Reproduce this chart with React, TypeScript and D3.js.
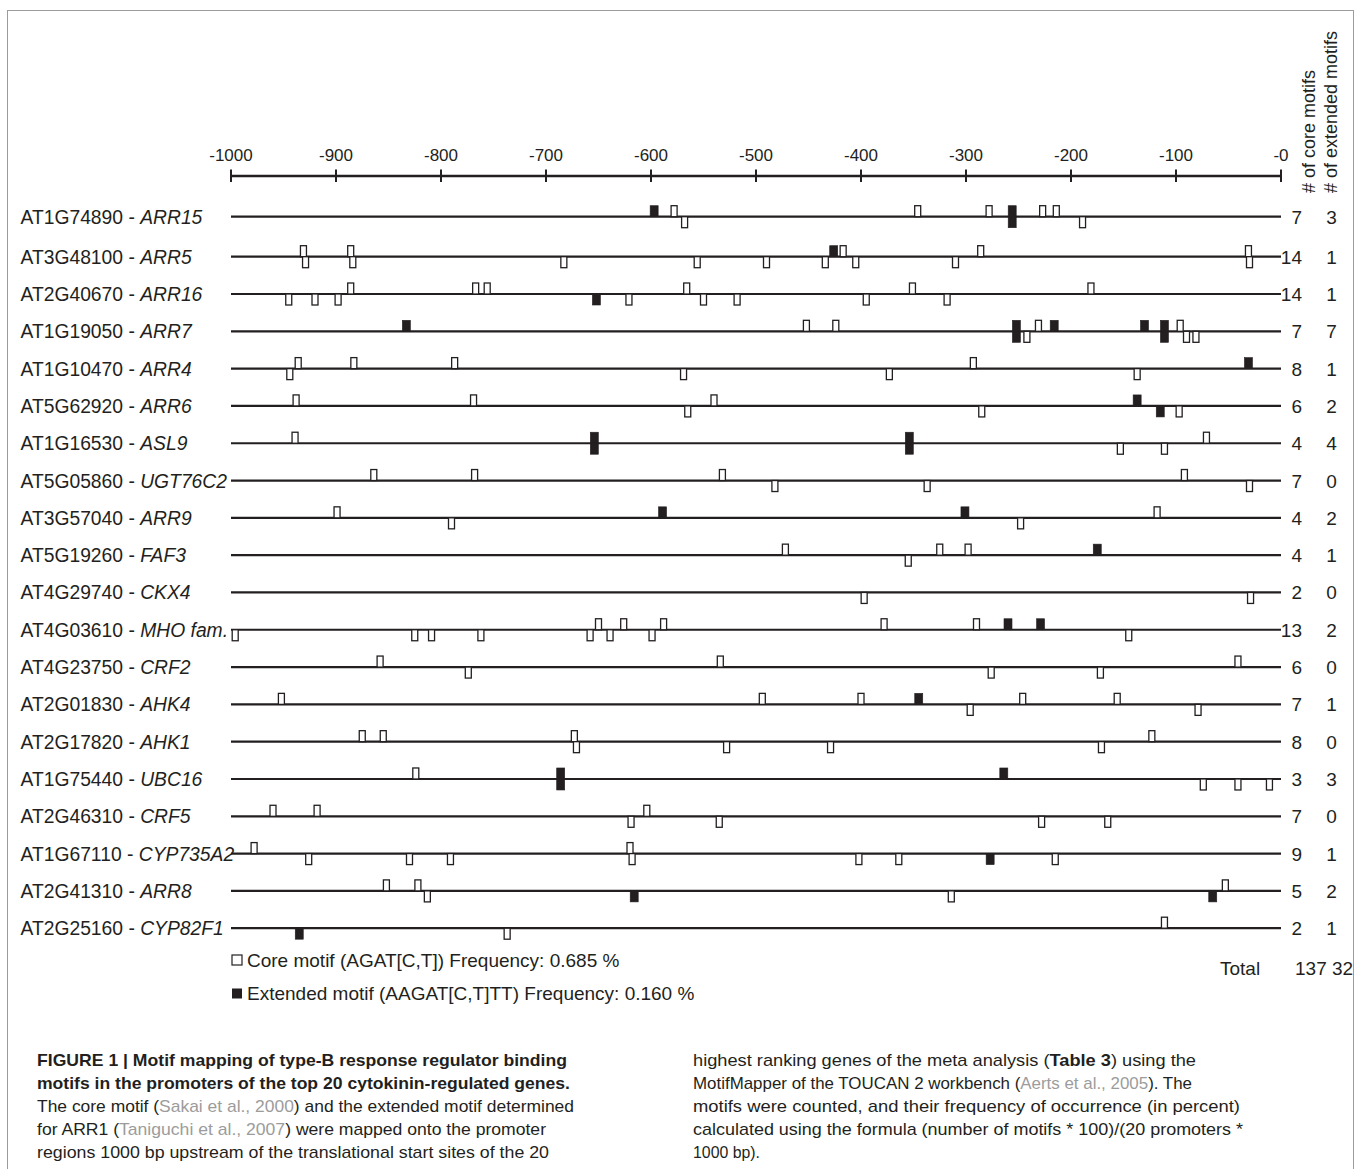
import React from "react";
import * as d3 from "d3";

const geneIds = [
  "AT1G74890", "AT3G48100", "AT2G40670", "AT1G19050", "AT1G10470",
  "AT5G62920", "AT1G16530", "AT5G05860", "AT3G57040", "AT5G19260",
  "AT4G29740", "AT4G03610", "AT4G23750", "AT2G01830", "AT2G17820",
  "AT1G75440", "AT2G46310", "AT1G67110", "AT2G41310", "AT2G25160",
];
const geneSymbols = [
  "ARR15", "ARR5", "ARR16", "ARR7", "ARR4", "ARR6", "ASL9", "UGT76C2", "ARR9", "FAF3",
  "CKX4", "MHO fam.", "CRF2", "AHK4", "AHK1", "UBC16", "CRF5", "CYP735A2", "ARR8", "CYP82F1",
];
const coreCounts = [7, 14, 14, 7, 8, 6, 4, 7, 4, 4, 2, 13, 6, 7, 8, 3, 7, 9, 5, 2];
const extendedCounts = [3, 1, 1, 7, 1, 2, 4, 0, 2, 1, 0, 2, 0, 1, 0, 3, 0, 1, 2, 1];

// [position (bp), strand: 1 = above line, -1 = below line]
const coreSites: number[][][] = [
  [[-578, 1], [-568, -1], [-346, 1], [-278, 1], [-227, 1], [-214, 1], [-189, -1]],
  [[-931, 1], [-929, -1], [-886, 1], [-884, -1], [-683, -1], [-556, -1], [-490, -1], [-434, -1], [-417, 1], [-405, -1], [-310, -1], [-286, 1], [-31, 1], [-30, -1]],
  [[-945, -1], [-920, -1], [-898, -1], [-886, 1], [-767, 1], [-756, 1], [-621, -1], [-566, 1], [-550, -1], [-518, -1], [-395, -1], [-351, 1], [-318, -1], [-181, 1]],
  [[-452, 1], [-424, 1], [-242, -1], [-231, 1], [-96, 1], [-90, -1], [-81, -1]],
  [[-944, -1], [-936, 1], [-883, 1], [-787, 1], [-569, -1], [-373, -1], [-293, 1], [-137, -1]],
  [[-938, 1], [-769, 1], [-565, -1], [-540, 1], [-285, -1], [-97, -1]],
  [[-939, 1], [-153, -1], [-111, -1], [-71, 1]],
  [[-864, 1], [-768, 1], [-532, 1], [-482, -1], [-337, -1], [-92, 1], [-30, -1]],
  [[-899, 1], [-790, -1], [-248, -1], [-118, 1]],
  [[-472, 1], [-355, -1], [-325, 1], [-298, 1]],
  [[-397, -1], [-29, -1]],
  [[-996, -1], [-825, -1], [-809, -1], [-762, -1], [-658, -1], [-650, 1], [-639, -1], [-626, 1], [-599, -1], [-588, 1], [-378, 1], [-290, 1], [-145, -1]],
  [[-858, 1], [-774, -1], [-534, 1], [-276, -1], [-172, -1], [-41, 1]],
  [[-952, 1], [-494, 1], [-400, 1], [-296, -1], [-246, 1], [-156, 1], [-79, -1]],
  [[-875, 1], [-855, 1], [-673, 1], [-671, -1], [-528, -1], [-429, -1], [-171, -1], [-123, 1]],
  [[-824, 1], [-74, -1], [-41, -1], [-11, -1]],
  [[-960, 1], [-918, 1], [-619, -1], [-604, 1], [-535, -1], [-228, -1], [-165, -1]],
  [[-978, 1], [-926, -1], [-830, -1], [-791, -1], [-620, 1], [-618, -1], [-402, -1], [-364, -1], [-215, -1]],
  [[-852, 1], [-822, 1], [-813, -1], [-314, -1], [-53, 1]],
  [[-737, -1], [-111, 1]],
];
const extendedSites: number[][][] = [
  [[-597, 1], [-256, 1], [-256, -1]],
  [[-426, 1]],
  [[-652, -1]],
  [[-833, 1], [-252, 1], [-252, -1], [-216, 1], [-130, 1], [-111, 1], [-111, -1]],
  [[-31, 1]],
  [[-137, 1], [-115, -1]],
  [[-654, 1], [-654, -1], [-354, 1], [-354, -1]],
  [],
  [[-589, 1], [-301, 1]],
  [[-175, 1]],
  [],
  [[-260, 1], [-229, 1]],
  [],
  [[-345, 1]],
  [],
  [[-686, 1], [-686, -1], [-264, 1]],
  [],
  [[-277, -1]],
  [[-616, -1], [-65, -1]],
  [[-935, -1]],
];
const axisTicks = d3.range(-1000, 1, 100);

const INK = "#231f20";
const FONT = "'Liberation Sans', Arial, Helvetica, sans-serif";
const GREY = "#9c9c9c";

export default function App() {
  const x = d3.scaleLinear().domain([-1000, 0]).range([231, 1281]);
  const yRest = d3.scaleLinear().domain([1, 19]).range([256.7, 928.2]);
  const rowY = (i: number) => (i === 0 ? 216.7 : yRest(i));
  const axisY = 176;
  const markH = 11;
  const coreW = 6;
  const extW = 8;

  const totalCore = d3.sum(coreCounts);
  const totalExt = d3.sum(extendedCounts);

  return (
    <svg
      width={1356}
      height={1169}
      style={{ position: "absolute", left: 0, top: 0, background: "#fff" }}
      fontFamily={FONT}
    >
      <rect x={0} y={0} width={1356} height={1169} fill="#fff" />
      {/* frame */}
      <rect x={7.5} y={10.5} width={1346} height={1200} fill="none" stroke={GREY} strokeWidth={1} />

      {/* axis */}
      <line x1={x(-1000)} x2={x(0)} y1={axisY} y2={axisY} stroke={INK} strokeWidth={2.4} />
      {axisTicks.map((t) => (
        <g key={t}>
          <line x1={x(t)} x2={x(t)} y1={axisY - 6.5} y2={axisY + 6} stroke={INK} strokeWidth={2} />
          <text x={x(t)} y={160.5} textAnchor="middle" fontSize={17} fill={INK}>
            {"-" + Math.abs(t)}
          </text>
        </g>
      ))}

      {/* column headers */}
      <text transform="translate(1315,193) rotate(-90)" fontSize={18} fill={INK}>
        # of core motifs
      </text>
      <text transform="translate(1337,193) rotate(-90)" fontSize={18} fill={INK}>
        # of extended motifs
      </text>

      {/* rows */}
      {geneIds.map((id, i) => {
        const y = rowY(i);
        return (
          <g key={id}>
            <text x={20.5} y={y + 7} fontSize={19.3} fill={INK}>
              {id + " - "}
              <tspan fontStyle="italic">{geneSymbols[i]}</tspan>
            </text>
            <line x1={x(-1000)} x2={x(0)} y1={y} y2={y} stroke={INK} strokeWidth={2.2} />
            {coreSites[i].map(([p, s], k) => (
              <rect
                key={"c" + k}
                x={x(p) - coreW / 2}
                y={s > 0 ? y - markH : y}
                width={coreW}
                height={markH}
                fill="#fff"
                stroke={INK}
                strokeWidth={1.3}
              />
            ))}
            {extendedSites[i].map(([p, s], k) => (
              <rect
                key={"e" + k}
                x={x(p) - extW / 2}
                y={s > 0 ? y - markH : y}
                width={extW}
                height={markH}
                fill={INK}
                stroke={INK}
                strokeWidth={0.6}
              />
            ))}
            <text x={1302} y={y + 7} textAnchor="end" fontSize={19} fill={INK}>
              {coreCounts[i]}
            </text>
            <text x={1331.5} y={y + 7} textAnchor="middle" fontSize={19} fill={INK}>
              {extendedCounts[i]}
            </text>
          </g>
        );
      })}

      {/* legend */}
      <rect x={232} y={955} width={10} height={10} fill="#fff" stroke={INK} strokeWidth={1.2} />
      <text x={247} y={967} fontSize={19} fill={INK}>
        Core motif (AGAT[C,T]) Frequency: 0.685 %
      </text>
      <rect x={232} y={988.5} width={10} height={10} fill={INK} />
      <text x={247} y={1000} fontSize={19} fill={INK}>
        Extended motif (AAGAT[C,T]TT) Frequency: 0.160 %
      </text>

      {/* totals */}
      <text x={1220} y={975} fontSize={19} fill={INK}>Total</text>
      <text x={1295} y={975} fontSize={19} fill={INK}>{totalCore}</text>
      <text x={1332} y={975} fontSize={19} fill={INK}>{totalExt}</text>

      {/* caption */}
      <g fontSize={17} fill={INK}>
        <text x={37} y={1066} fontWeight="bold" textLength={530} lengthAdjust="spacingAndGlyphs">
          FIGURE 1 | Motif mapping of type-B response regulator binding
        </text>
        <text x={37} y={1089} fontWeight="bold" textLength={533} lengthAdjust="spacingAndGlyphs">
          motifs in the promoters of the top 20 cytokinin-regulated genes.
        </text>
        <text x={37} y={1112} textLength={537} lengthAdjust="spacingAndGlyphs">
          The core motif (<tspan fill={GREY}>Sakai et al., 2000</tspan>) and the extended motif determined
        </text>
        <text x={37} y={1135} textLength={509} lengthAdjust="spacingAndGlyphs">
          for ARR1 (<tspan fill={GREY}>Taniguchi et al., 2007</tspan>) were mapped onto the promoter
        </text>
        <text x={37} y={1158} textLength={512} lengthAdjust="spacingAndGlyphs">
          regions 1000 bp upstream of the translational start sites of the 20
        </text>

        <text x={693} y={1066} textLength={503} lengthAdjust="spacingAndGlyphs">
          highest ranking genes of the meta analysis (<tspan fontWeight="bold">Table 3</tspan>) using the
        </text>
        <text x={693} y={1089} textLength={499} lengthAdjust="spacingAndGlyphs">
          MotifMapper of the TOUCAN 2 workbench (<tspan fill={GREY}>Aerts et al., 2005</tspan>). The
        </text>
        <text x={693} y={1112} textLength={547} lengthAdjust="spacingAndGlyphs">
          motifs were counted, and their frequency of occurrence (in percent)
        </text>
        <text x={693} y={1135} textLength={550} lengthAdjust="spacingAndGlyphs">
          calculated using the formula (number of motifs * 100)/(20 promoters *
        </text>
        <text x={693} y={1158} textLength={67} lengthAdjust="spacingAndGlyphs">
          1000 bp).
        </text>
      </g>
    </svg>
  );
}
